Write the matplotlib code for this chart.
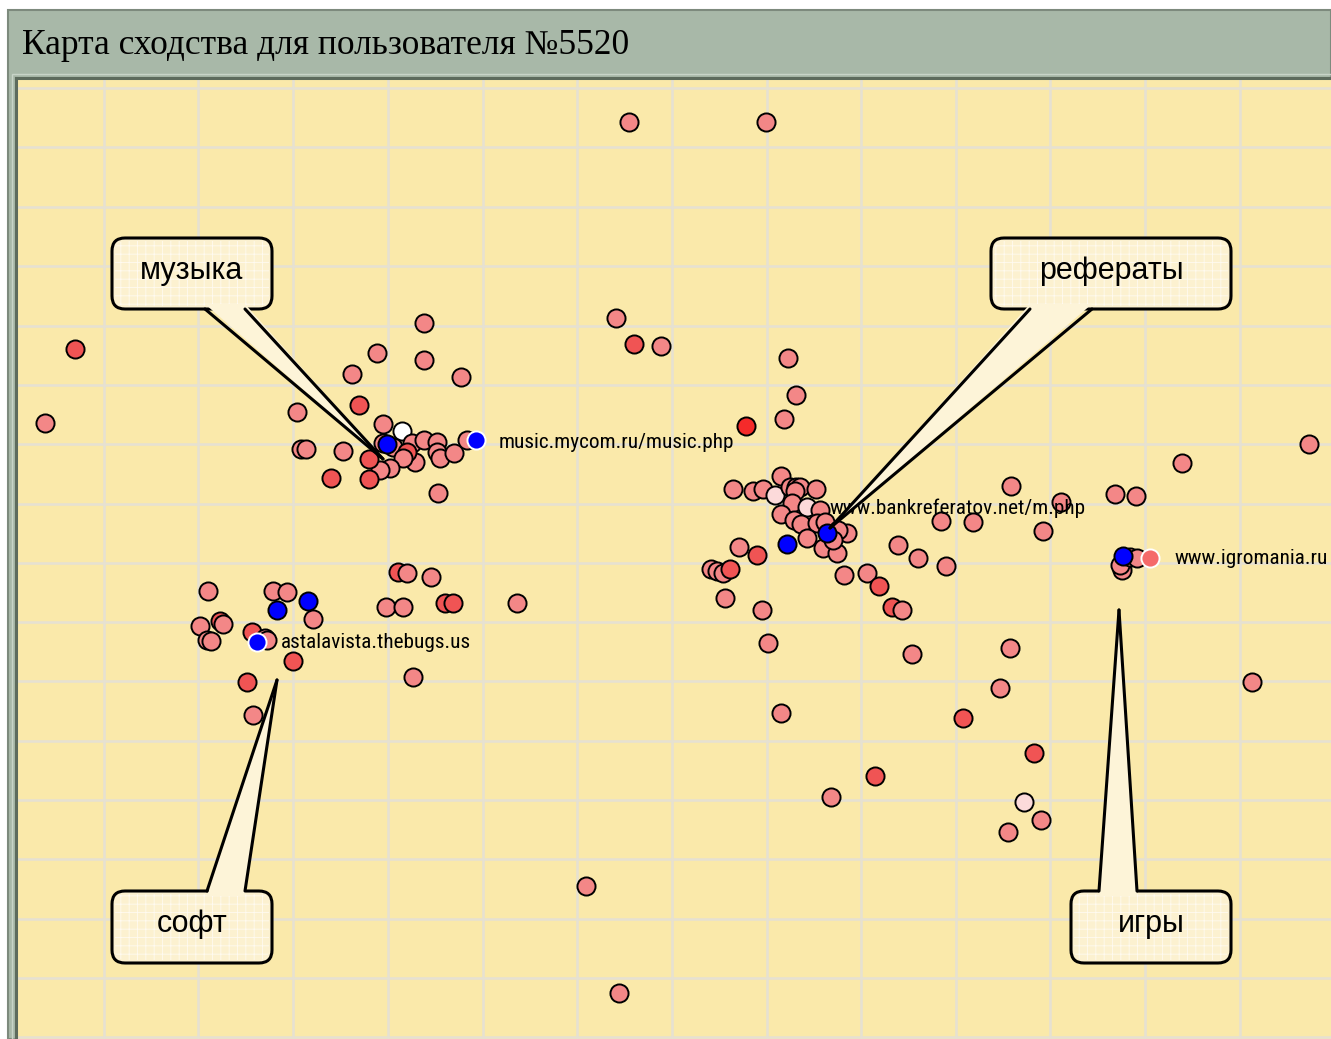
import matplotlib
matplotlib.use("Agg")
import matplotlib.pyplot as plt
from matplotlib.patches import FancyBboxPatch, Rectangle, Polygon
from matplotlib.lines import Line2D

# ---------------- data (map coordinates) ----------------
title = "Карта сходства для пользователя №5520"

# outliers
out_x = [629, 766, 75, 45]
out_y = [122, 122, 349, 423]
out_k = "nnrn"

# music cluster
mus_x = [424, 377, 424, 352, 461, 359, 297, 383, 402, 301, 306, 343, 393, 412, 424, 437,
         437, 440, 415, 407, 403, 390, 380, 369, 369, 331, 438, 454, 467, 383, 387, 476]
mus_y = [323, 353, 360, 374, 377, 405, 412, 424, 431, 449, 449, 451, 447, 443, 440, 442,
         452, 458, 462, 452, 458, 468, 470, 459, 479, 478, 493, 453, 440, 443, 444, 440]
mus_k = "nnnnnrnnwnnnnnnn" "nnnrnnnrrrnnnnbB"

# referats cluster
ref_x = [733, 753, 763, 775, 781, 790, 796, 800, 795, 816, 792, 807, 820, 781, 794, 801,
         817, 825, 847, 838, 807, 823, 837, 833, 827, 787, 739, 757, 711, 717, 723, 730,
         725, 762, 844, 867, 879, 892, 902, 898, 918, 946, 941, 973, 1011, 1061, 1043,
         1115, 1136, 616, 634, 661, 788, 796, 784, 746, 1182, 1309]
ref_y = [489, 491, 489, 495, 476, 487, 487, 487, 491, 489, 503, 507, 510, 514, 520, 524,
         523, 522, 533, 530, 538, 548, 553, 540, 533, 544, 547, 555, 569, 571, 573, 569,
         598, 610, 575, 573, 586, 607, 610, 545, 558, 566, 521, 522, 486, 502, 531,
         494, 496, 318, 344, 346, 358, 395, 419, 426, 463, 444]
ref_k = "nnnpnnnnnnnpnnnn" "nnnnnnnnbbnrnnnr" "nnnnrrnnnnnnnnn" "nnnrnnnnRnn"

# lower right scatter
low_x = [768, 781, 912, 1010, 1000, 963, 1034, 875, 831, 1024, 1008, 1041, 1252, 586, 619]
low_y = [643, 713, 654, 648, 688, 718, 753, 776, 797, 802, 832, 820, 682, 886, 993]
low_k = "nnnnnrrrnpnnnnn"

# igromania cluster
igr_x = [1122, 1120, 1130, 1137, 1123, 1150]
igr_y = [570, 565, 557, 558, 556, 558]
igr_k = "nnnnbT"

# soft cluster
soft_x = [208, 273, 287, 277, 308, 313, 200, 220, 223, 207, 211, 252, 265, 267, 257, 293,
          247, 253, 398, 407, 431, 386, 403, 445, 453, 517, 413]
soft_y = [591, 591, 592, 610, 601, 619, 626, 621, 624, 640, 641, 632, 638, 640, 642, 661,
          682, 715, 572, 573, 577, 607, 607, 603, 603, 603, 677]
soft_k = "nnnbbnnrnnnrnnBr" "rnrnnnnrrnn"

site_labels = ["music.mycom.ru/music.php", "www.bankreferatov.net/m.php",
               "www.igromania.ru", "astalavista.thebugs.us"]
site_label_x = [499, 829, 1174, 281]
site_label_y = [442, 508, 558, 643]

callout_text = ["музыка", "рефераты", "софт", "игры"]
callout_box = [(112, 238, 160, 71), (991, 238, 240, 71), (112, 891, 160, 72), (1071, 891, 160, 72)]
callout_base = [((205, 309), (245, 309)), ((1030, 309), (1092, 309)),
                ((207, 891), (245, 891)), ((1099, 891), (1137, 891))]
callout_tip = [(383, 459), (830, 528), (277, 680), (1119, 610)]

grid_x = [104, 198.5, 293, 388, 483, 577, 672, 767, 861, 956, 1050, 1145, 1240]
grid_y = [88, 147, 206.5, 266, 325.5, 385, 444, 503.5, 563, 622, 681, 740.5, 800, 859,
          918.5, 978, 1037]

# ---------------- styles ----------------
fill = {"n": "#f38787", "r": "#f05454", "R": "#f52a2a", "p": "#fcdada", "w": "#ffffff",
        "b": "#0000ff", "B": "#0000ff", "T": "#f56a6a"}
edge = {"n": "black", "r": "black", "R": "black", "p": "black", "w": "black",
        "b": "black", "B": "white", "T": "white"}

W, H = 1331, 1039
fig = plt.figure(figsize=(W / 100, H / 100), dpi=100)
fig.patch.set_facecolor("white")

# outer frame / title bar
fig.patches.append(Rectangle((8 / W, 0), 1 - 8 / W, 1 - 10 / H, transform=fig.transFigure,
                             facecolor="#a8b8a8", edgecolor="#7d8a7d", linewidth=1.5, zorder=-5))
fig.patches.append(Rectangle((12 / W, 0), 1 - 12 / W, 1 - 74 / H, transform=fig.transFigure,
                             facecolor="none", edgecolor="#c8d4c8", linewidth=1, zorder=-4))
fig.text(22 / W, 1 - 45 / H, title, fontsize=25.5, family=["Liberation Serif", "DejaVu Serif"],
         va="center", ha="left", color="black", zorder=10)

ax = fig.add_axes([16 / W, 0, 1 - 16 / W, 1 - 78 / H])
ax.set_zorder(2)
ax.set_facecolor("#fae9aa")
ax.set_xlim(16, W)
ax.set_ylim(H, 78)
ax.set_xticks([])
ax.set_yticks([])
for v in grid_x:
    ax.axvline(v, color="#e6e1d2", lw=1.8, zorder=1)
for v in grid_y:
    ax.axhline(v, color="#e6e1d2", lw=1.8, zorder=1)
for s in ["right", "bottom"]:
    ax.spines[s].set_visible(False)
for s in ["left", "top"]:
    ax.spines[s].set_color("#5d6b5d")
    ax.spines[s].set_linewidth(2.2)

# points
groups = [(out_x, out_y, out_k), (mus_x, mus_y, mus_k), (ref_x, ref_y, ref_k),
          (low_x, low_y, low_k), (igr_x, igr_y, igr_k), (soft_x, soft_y, soft_k)]
for gx, gy, gk in groups:
    assert len(gx) == len(gy) == len(gk), (len(gx), len(gy), len(gk))
    for x, y, k in zip(gx, gy, gk):
        ax.scatter([x], [y], s=170, c=fill[k], edgecolors=edge[k], linewidths=1.4,
                   zorder=3 if k not in "bBT" else 4)

# site labels
for t, x, y in zip(site_labels, site_label_x, site_label_y):
    ax.text(x, y, t, fontsize=15.3,
            family=["Liberation Sans Narrow", "Roboto Condensed", "Liberation Sans", "DejaVu Sans"],
            va="center", ha="left", color="black", zorder=5)

# callouts
plt.rcParams["hatch.linewidth"] = 0.6
for t, (bx, by, bw, bh), (b1, b2), tip in zip(callout_text, callout_box, callout_base, callout_tip):
    box = FancyBboxPatch((bx, by), bw, bh, boxstyle="round,pad=0,rounding_size=13",
                         facecolor="#fcf1d0", edgecolor="black", linewidth=2.2, zorder=6)
    ax.add_patch(box)
    hatch = FancyBboxPatch((bx + 3, by + 3), bw - 6, bh - 6, boxstyle="round,pad=0,rounding_size=10",
                           facecolor="none", edgecolor="#fffaf0", hatch="++", linewidth=0, zorder=6)
    ax.add_patch(hatch)
    inward = 5 if b1[1] == by + bh else -5
    poly = Polygon([(b1[0], b1[1] - inward), (b2[0], b2[1] - inward), tip],
                   closed=True, facecolor="#fdf4d8", edgecolor="none", zorder=7)
    ax.add_patch(poly)
    for b in (b1, b2):
        ax.add_line(Line2D([b[0], tip[0]], [b[1], tip[1]], color="black", lw=2.2, zorder=8,
                           solid_capstyle="round"))
    ax.text(bx + bw / 2, by + bh / 2 - 3, t, fontsize=22, family=["Liberation Sans", "DejaVu Sans"],
            ha="center", va="center", color="black", zorder=9)

fig.savefig("out.png", dpi=100)
